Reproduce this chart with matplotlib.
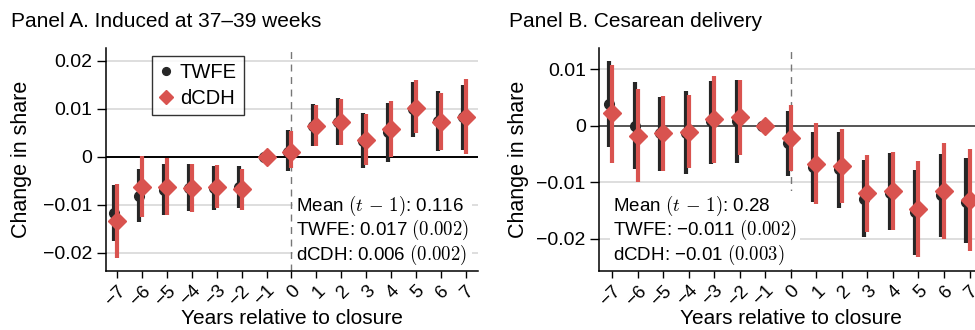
import matplotlib
matplotlib.use("Agg")
import matplotlib.pyplot as plt
import matplotlib.transforms as mtransforms
import numpy as np

plt.rcParams['font.family'] = ['Liberation Sans', 'DejaVu Sans']
plt.rcParams['mathtext.fontset'] = 'cm'

years = list(range(-7, 8))
tick_labels = [str(y).replace('-', '\u2212') for y in years]

# Panel A: induced at 37-39 weeks
a_twfe = [-0.0117, -0.0081, -0.0070, -0.0065, -0.0065, -0.0062, 0.0, 0.0011,
          0.0065, 0.0072, 0.0033, 0.0051, 0.0099, 0.0074, 0.0083]
a_twfe_lo = [-0.0175, -0.0135, -0.0121, -0.0112, -0.0110, -0.0106, 0.0, -0.0029,
             0.0022, 0.0024, -0.0024, -0.0010, 0.0042, 0.0013, 0.0015]
a_twfe_hi = [-0.0058, -0.0026, -0.0014, -0.0015, -0.0019, -0.0020, 0.0, 0.0055,
             0.0111, 0.0122, 0.0091, 0.0112, 0.0157, 0.0138, 0.0150]
a_dcdh = [-0.0133, -0.0062, -0.0062, -0.0065, -0.0062, -0.0067, 0.0, 0.0011,
          0.0065, 0.0072, 0.0035, 0.0058, 0.0101, 0.0073, 0.0084]
a_dcdh_lo = [-0.0210, -0.0126, -0.0121, -0.0114, -0.0107, -0.0110, 0.0, -0.0024,
             0.0022, 0.0024, -0.0018, -0.0001, 0.0049, 0.0015, 0.0006]
a_dcdh_hi = [-0.0056, 0.0001, -0.0002, -0.0015, -0.0017, -0.0026, 0.0, 0.0053,
             0.0108, 0.0121, 0.0090, 0.0117, 0.0160, 0.0134, 0.0163]

# Panel B: cesarean delivery
b_twfe = [0.0038, 0.0, -0.0013, -0.0012, 0.0009, 0.0009, 0.0, -0.0031,
          -0.0072, -0.0076, -0.0129, -0.0118, -0.0153, -0.0122, -0.0134]
b_twfe_lo = [-0.0038, -0.0076, -0.0079, -0.0085, -0.0067, -0.0066, 0.0, -0.0088,
             -0.0135, -0.0145, -0.0196, -0.0185, -0.0229, -0.0196, -0.0207]
b_twfe_hi = [0.0115, 0.0077, 0.0052, 0.0062, 0.0079, 0.0082, 0.0, 0.0026,
             -0.0011, -0.0011, -0.0060, -0.0048, -0.0078, -0.0049, -0.0057]
b_dcdh = [0.0022, -0.0018, -0.0013, -0.0010, 0.0012, 0.0015, 0.0, -0.0021,
          -0.0068, -0.0071, -0.0119, -0.0116, -0.0147, -0.0116, -0.0131]
b_dcdh_lo = [-0.0065, -0.0100, -0.0079, -0.0075, -0.0066, -0.0051, 0.0, -0.0079,
             -0.0139, -0.0137, -0.0188, -0.0185, -0.0232, -0.0200, -0.0221]
b_dcdh_hi = [0.0108, 0.0065, 0.0053, 0.0055, 0.0088, 0.0082, 0.0, 0.0037,
             0.0005, -0.0006, -0.0051, -0.0046, -0.0063, -0.0031, -0.0041]

a_note = "Mean $(t\\,-\\,1)$: 0.116\nTWFE: 0.017 $(0.002)$\ndCDH: 0.006 $(0.002)$"
b_note = "Mean $(t\\,-\\,1)$: 0.28\nTWFE: \u22120.011 $(0.002)$\ndCDH: \u22120.01 $(0.003)$"

RED = '#d9534f'
BLACK = '#262626'
FS = 14

fig = plt.figure(figsize=(9.75, 3.3), dpi=100)
axA = fig.add_axes([0.1087, 0.1788, 0.3816, 0.6757])
axB = fig.add_axes([0.6147, 0.1788, 0.3928, 0.6757])


def draw(ax, tw, tw_lo, tw_hi, dc, dc_lo, dc_hi, ylim, yticks, yticklabels,
         note, note_xy, zero_color):
    x = np.array(years, dtype=float)
    xb = x - 0.12
    xr = x + 0.0
    for t in yticks:
        if t != 0:
            ax.axhline(t, color='#d4d4d4', lw=1.1, zorder=0)
    ax.axhline(0, color=zero_color, lw=1.4, zorder=1)
    ax.axvline(0, color='#777777', lw=1.0, ls=(0, (5, 4)), zorder=1)
    ax.vlines(xb, tw_lo, tw_hi, color=BLACK, lw=3.0, zorder=3)
    ax.plot(xb, tw, 'o', color=BLACK, ms=7, zorder=3, label='TWFE')
    ax.vlines(xr, dc_lo, dc_hi, color=RED, lw=3.0, zorder=4)
    ax.plot(xr, dc, 'D', color=RED, ms=9.5, zorder=5, label='dCDH')
    ax.set_xlim(-7.45, 7.5)
    ax.set_ylim(*ylim)
    ax.set_yticks(yticks)
    ax.set_yticklabels(yticklabels, fontsize=FS)
    ax.set_xticks(years)
    ax.set_xticklabels(tick_labels, fontsize=FS - 0.5, rotation=45,
                       ha='right', va='top', rotation_mode='anchor')
    shift = mtransforms.ScaledTranslation(7 / 100, 0, fig.dpi_scale_trans)
    for lab in ax.get_xticklabels():
        lab.set_transform(lab.get_transform() + shift)
    ax.tick_params(axis='y', length=6.7, width=1, color='black', pad=3)
    ax.tick_params(axis='x', length=5, width=1, color='black', pad=3)
    for s in ['top', 'right']:
        ax.spines[s].set_visible(False)
    for s in ['left', 'bottom']:
        ax.spines[s].set_linewidth(1.1)
    ax.set_xlabel('Years relative to closure', fontsize=15)
    ax.set_ylabel('Change in share', fontsize=15.5, va='center')
    ax.text(note_xy[0], note_xy[1], note, transform=ax.transAxes, fontsize=FS - 0.5,
            ha='left', va='top', linespacing=1.0, zorder=6,
            bbox=dict(facecolor='white', edgecolor='none', pad=2))


draw(axA, a_twfe, a_twfe_lo, a_twfe_hi, a_dcdh, a_dcdh_lo, a_dcdh_hi,
     (-0.0238, 0.0227), [-0.02, -0.01, 0, 0.01, 0.02],
     ['\u22120.02', '\u22120.01', '0', '0.01', '0.02'],
     a_note, (0.51, 0.345), 'black')
draw(axB, b_twfe, b_twfe_lo, b_twfe_hi, b_dcdh, b_dcdh_lo, b_dcdh_hi,
     (-0.0257, 0.0138), [-0.02, -0.01, 0, 0.01],
     ['\u22120.02', '\u22120.01', '0', '0.01'],
     b_note, (0.036, 0.345), '#555555')
axB.set_xlim(-7.5, 7.5)

axA.yaxis.set_label_coords(-0.228, 0.5)
axB.yaxis.set_label_coords(-0.212, 0.5)
axA.xaxis.set_label_coords(0.5, -0.17)
axB.xaxis.set_label_coords(0.5, -0.17)

leg = axA.legend(loc='upper left', bbox_to_anchor=(0.125, 0.965), fontsize=FS + 0.5,
                 frameon=True, fancybox=False, edgecolor='black', handlelength=0.6,
                 handletextpad=0.4, borderpad=0.35, labelspacing=0.35, markerscale=0.8,
                 borderaxespad=0)
leg.get_frame().set_linewidth(1.0)

fig.text(0.011, 0.936, 'Panel A. Induced at 37\u201339 weeks', fontsize=15,
         ha='left', va='center')
fig.text(0.522, 0.936, 'Panel B. Cesarean delivery', fontsize=15,
         ha='left', va='center')

fig.savefig('out.png', dpi=100)
